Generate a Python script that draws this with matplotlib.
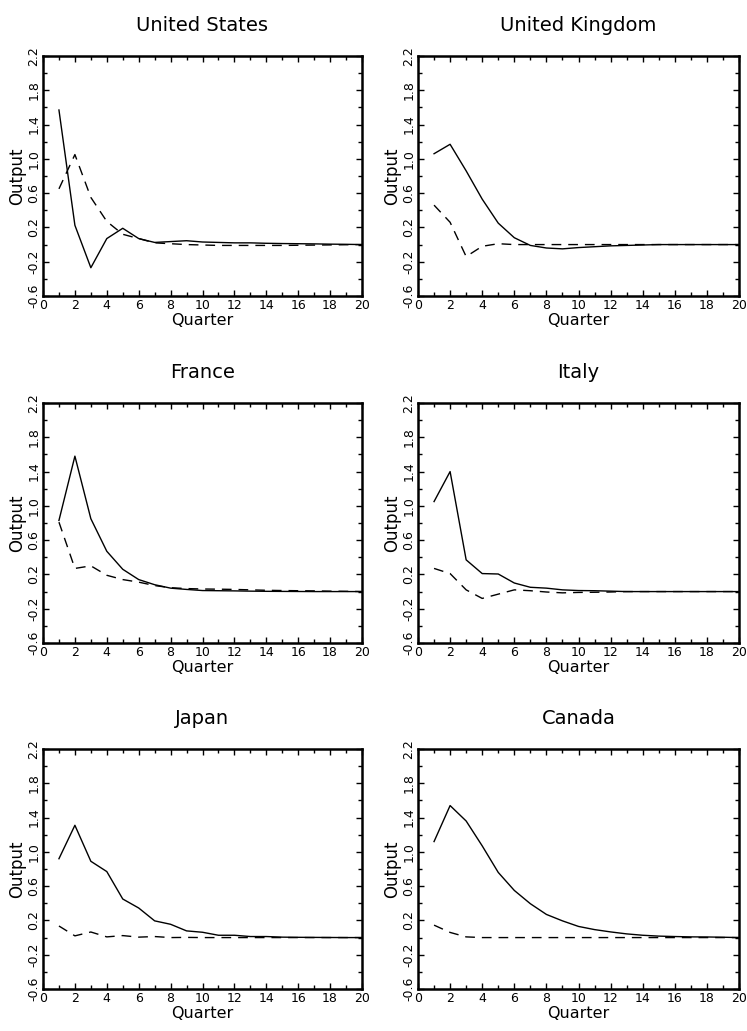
import numpy as np
import matplotlib
matplotlib.use("Agg")
import matplotlib.pyplot as plt
from matplotlib.ticker import MultipleLocator

quarters = np.arange(1, 21)

countries = ["United States", "United Kingdom", "France", "Italy", "Japan", "Canada"]

# solid line (first response), dashed line (second response)
us_solid = [1.57, 0.225, -0.27, 0.07, 0.19, 0.07, 0.025, 0.035, 0.045, 0.03,
            0.025, 0.02, 0.02, 0.015, 0.012, 0.01, 0.008, 0.005, 0.003, 0.0]
us_dash = [0.65, 1.05, 0.55, 0.27, 0.12, 0.07, 0.02, 0.01, 0.0, -0.005,
           -0.01, -0.01, -0.01, -0.01, -0.01, -0.008, -0.006, -0.004, -0.002, 0.0]

uk_solid = [1.06, 1.17, 0.86, 0.53, 0.25, 0.08, -0.01, -0.04, -0.05, -0.035,
            -0.025, -0.015, -0.01, -0.005, 0.0, 0.0, 0.0, 0.0, 0.0, 0.0]
uk_dash = [0.46, 0.26, -0.14, -0.02, 0.01, 0.0, 0.0, 0.0, 0.0, 0.0,
           0.0, 0.0, 0.0, 0.0, 0.0, 0.0, 0.0, 0.0, 0.0, 0.0]

fr_solid = [0.83, 1.58, 0.85, 0.47, 0.26, 0.14, 0.08, 0.04, 0.025, 0.012,
            0.01, 0.008, 0.005, 0.003, 0.002, 0.001, 0.0, 0.0, 0.0, 0.0]
fr_dash = [0.81, 0.27, 0.3, 0.19, 0.14, 0.11, 0.07, 0.045, 0.035, 0.03,
           0.028, 0.025, 0.02, 0.015, 0.012, 0.01, 0.008, 0.005, 0.003, 0.0]

it_solid = [1.05, 1.40, 0.37, 0.21, 0.205, 0.10, 0.05, 0.04, 0.02, 0.012,
            0.01, 0.005, 0.0, 0.0, 0.0, 0.0, 0.0, 0.0, 0.0, 0.0]
it_dash = [0.27, 0.21, 0.02, -0.08, -0.03, 0.02, 0.01, -0.005, -0.015, -0.01,
           -0.008, -0.005, 0.0, 0.0, 0.0, 0.0, 0.0, 0.0, 0.0, 0.0]

jp_solid = [0.92, 1.31, 0.89, 0.77, 0.45, 0.345, 0.195, 0.155, 0.078, 0.062,
            0.027, 0.027, 0.012, 0.012, 0.005, 0.003, 0.002, 0.001, 0.0, 0.0]
jp_dash = [0.135, 0.02, 0.065, 0.008, 0.023, 0.005, 0.012, 0.0, 0.002, 0.0,
           0.0, 0.0, 0.0, 0.0, 0.0, 0.0, 0.0, 0.0, 0.0, 0.0]

ca_solid = [1.12, 1.54, 1.36, 1.07, 0.76, 0.55, 0.395, 0.27, 0.195, 0.13,
            0.093, 0.066, 0.043, 0.027, 0.017, 0.012, 0.008, 0.007, 0.004, 0.0]
ca_dash = [0.145, 0.06, 0.008, 0.0, 0.0, 0.0, 0.0, 0.0, 0.0, 0.0,
           0.0, 0.0, 0.0, 0.0, 0.0, 0.0, 0.0, 0.0, 0.0, 0.0]

solids = [us_solid, uk_solid, fr_solid, it_solid, jp_solid, ca_solid]
dashes = [us_dash, uk_dash, fr_dash, it_dash, jp_dash, ca_dash]

fig = plt.figure(figsize=(7.47, 10.31), dpi=100)

W, H = 747.0, 1031.0
col_left = [43, 418]
col_width = [319, 321]
row_bottom = [296, 643, 989]
ax_h = 240

yticks = np.arange(-0.6, 2.21, 0.4)

for i, name in enumerate(countries):
    r, c = divmod(i, 2)
    ax = fig.add_axes([col_left[c] / W, 1 - row_bottom[r] / H,
                       col_width[c] / W, ax_h / H])
    ax.plot(quarters, solids[i], color="black", lw=1.0)
    ax.plot(quarters, dashes[i], color="black", lw=1.0, linestyle=(0, (7, 5)))

    ax.set_xlim(0, 20)
    ax.set_ylim(-0.6, 2.2)
    ax.xaxis.set_major_locator(MultipleLocator(2))
    ax.xaxis.set_minor_locator(MultipleLocator(1))
    ax.set_yticks(yticks)
    ax.set_yticks(np.arange(-0.6, 2.21, 0.2), minor=True)
    ax.set_yticklabels(["%.1f" % v for v in yticks], rotation=90, va="center")
    ax.tick_params(which="both", direction="in", top=True, right=True,
                   labelsize=9, pad=2)
    ax.tick_params(which="major", length=4, width=1)
    ax.tick_params(which="minor", length=3, width=1)
    for s in ax.spines.values():
        s.set_linewidth(1.8)

    ax.set_title(name, fontsize=14, pad=18)
    ax.set_xlabel("Quarter", fontsize=11.5, labelpad=1)
    ax.set_ylabel("Output", fontsize=12, labelpad=1)

fig.savefig("out.png", dpi=100)
